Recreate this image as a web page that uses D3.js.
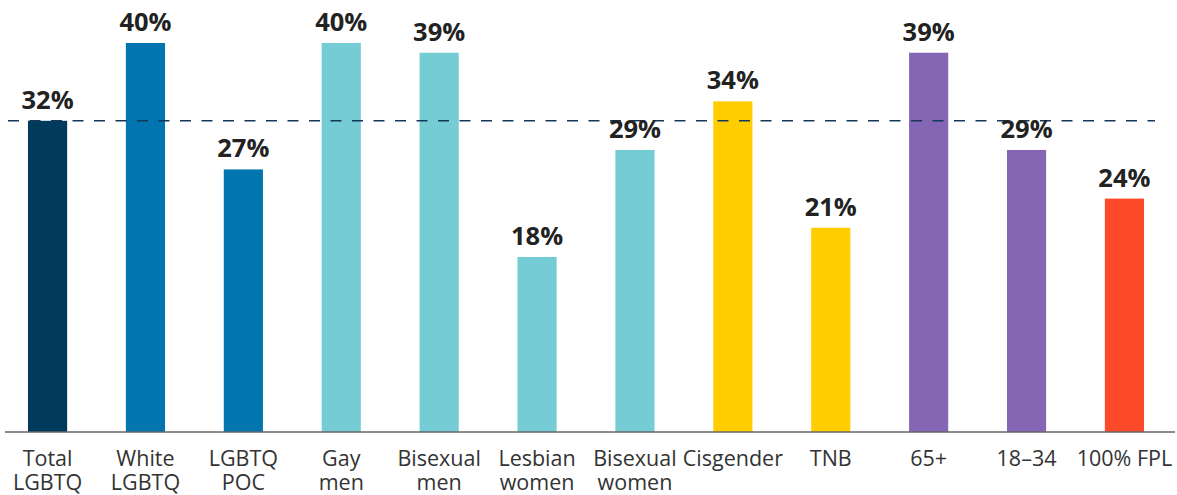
<!DOCTYPE html>
<meta charset="utf-8">
<script src="https://d3js.org/d3.v7.min.js"></script>
<style>
  body { margin: 0; background: #fff; }
  svg text { font-family: "Open Sans", "Noto Sans", sans-serif; }
</style>
<body>
<div id="my_dataviz"></div>
<script>
  // data
  var categories = [["Total", "LGBTQ"], ["White", "LGBTQ"], ["LGBTQ", "POC"], ["Gay", "men"],
                    ["Bisexual", "men"], ["Lesbian", "women"], ["Bisexual", "women"], ["Cisgender"],
                    ["TNB"], ["65+"], ["18\u201334"], ["100% FPL"]];
  var values = [32, 40, 27, 40, 39, 18, 29, 34, 21, 39, 29, 24];
  var barColors = ["#003a5d", "#0075b0", "#0075b0", "#75ccd4", "#75ccd4", "#75ccd4", "#75ccd4",
                   "#ffcd00", "#ffcd00", "#8566b5", "#8566b5", "#fc4a28"];
  var refValue = 32;

  var width = 1177, height = 495;

  var svg = d3.select("#my_dataviz")
    .append("svg")
    .attr("width", width)
    .attr("height", height);

  var x = d3.scaleBand()
    .domain(d3.range(values.length))
    .range([8.4, 1163.6])
    .paddingInner(0.6)
    .paddingOuter(0.2);

  var y = d3.scaleLinear()
    .domain([0, 40])
    .range([432, 43]);

  // bars
  svg.selectAll(".bar")
    .data(values)
    .enter()
    .append("rect")
      .attr("class", "bar")
      .attr("x", function(d, i) { return x(i); })
      .attr("y", function(d) { return y(d); })
      .attr("width", x.bandwidth())
      .attr("height", function(d) { return y(0) - y(d); })
      .attr("fill", function(d, i) { return barColors[i]; });

  // dashed reference line
  svg.append("line")
    .attr("x1", 8)
    .attr("x2", 1155)
    .attr("y1", y(refValue))
    .attr("y2", y(refValue))
    .attr("stroke", "#15385a")
    .attr("stroke-width", 1.5)
    .attr("stroke-dasharray", "11,10.5");

  // value labels
  svg.selectAll(".val")
    .data(values)
    .enter()
    .append("text")
      .attr("class", "val")
      .attr("x", function(d, i) { return x(i) + x.bandwidth() / 2; })
      .attr("y", function(d) { return y(d) - 12; })
      .attr("text-anchor", "middle")
      .attr("font-size", 25.5)
      .attr("font-weight", "bold")
      .attr("fill", "#222")
      .text(function(d) { return d + "%"; });

  // x axis
  var xAxis = svg.append("g")
    .attr("transform", "translate(0," + y(0) + ")")
    .call(d3.axisBottom(x).tickSize(0).tickFormat(""));
  xAxis.select(".domain")
    .attr("d", "M5,0H1175")
    .attr("stroke", "#666")
    .attr("stroke-width", 1.5);

  xAxis.selectAll(".tick text").remove();
  xAxis.selectAll(".tick")
    .append("text")
      .attr("fill", "#333")
      .attr("font-size", 21.5)
      .attr("text-anchor", "middle")
      .attr("y", 33.5)
      .selectAll("tspan")
      .data(function(i) { return categories[i]; })
      .enter()
      .append("tspan")
        .attr("x", 0)
        .attr("dy", function(d, j) { return j === 0 ? 0 : 24.5; })
        .text(function(d) { return d; });
</script>
</body>
